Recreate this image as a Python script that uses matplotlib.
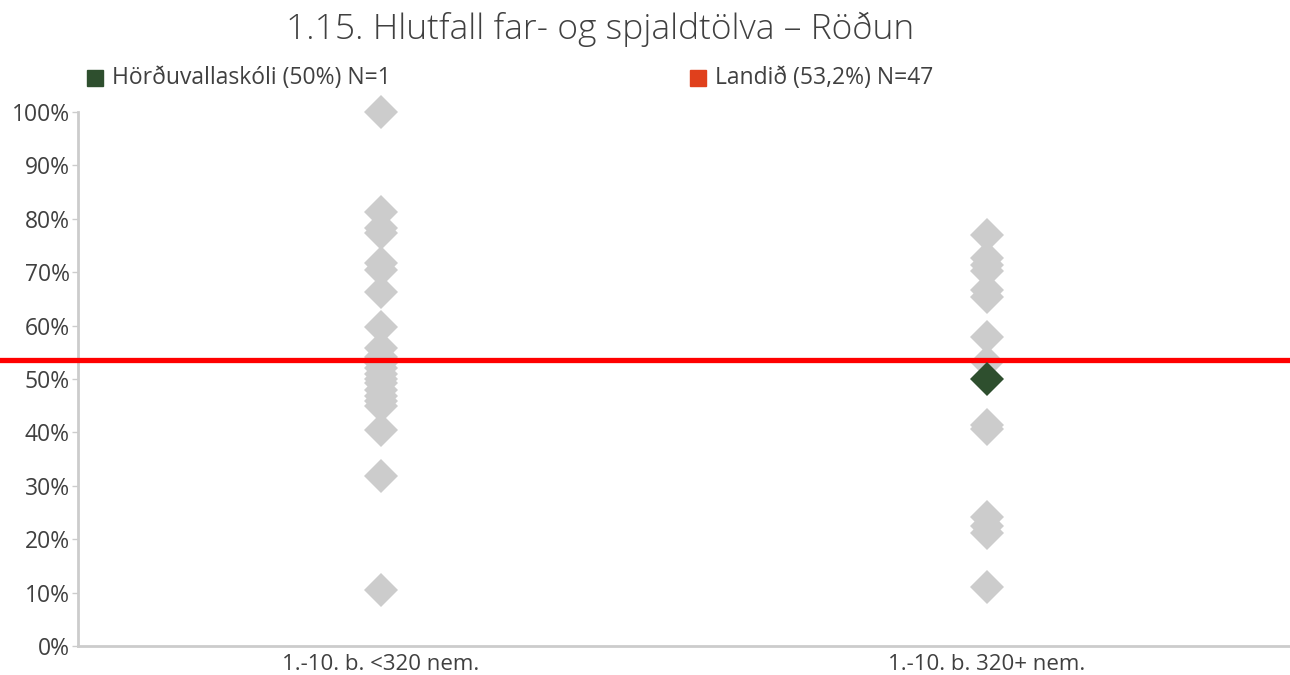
import matplotlib.pyplot as plt
import matplotlib.transforms as mtransforms
from matplotlib.patches import Rectangle

plt.rcParams['font.family'] = ['Open Sans', 'DejaVu Sans']

categories = ['1.-10. b. <320 nem.', '1.-10. b. 320+ nem.']
# other schools, share in %
small_schools = [100, 81.3, 78.2, 77.3, 71.7, 70.4, 66.3, 59.8, 55.8, 54.2, 53.0,
                 52.0, 51.0, 50.0, 49.2, 48.0, 46.8, 45.8, 45.0, 40.4, 31.9, 10.4]
large_schools = [77.0, 72.6, 71.3, 70.2, 66.7, 65.3, 57.9, 53.2, 41.3, 40.6,
                 24.2, 22.5, 21.2, 11.1]
school_name = 'Hörðuvallaskóli'
school_value = 50.0
school_cat = 1
national = 53.6
legend_school = 'Hörðuvallaskóli (50%) N=1'
legend_national = 'Landið (53,2%) N=47'
title = '1.15. Hlutfall far- og spjaldtölva – Röðun'

grey = '#cccccc'
green = '#2e4f2e'
red = '#ff0000'
txt = '#404040'

fig = plt.figure(figsize=(12.9, 6.75), dpi=100)
ax = fig.add_axes([78 / 1290, 1 - 646 / 675, 1212 / 1290, (646 - 112) / 675])

ax.plot([0] * len(small_schools), small_schools, 'D', color=grey, ms=17, mew=0,
        zorder=2, clip_on=False)
ax.plot([1] * len(large_schools), large_schools, 'D', color=grey, ms=17, mew=0,
        zorder=2, clip_on=False)
ax.plot([school_cat], [school_value], 'D', color=green, ms=17, mew=0, zorder=4)

# national line runs across the whole figure width
trans = mtransforms.blended_transform_factory(ax.transAxes, ax.transData)
ax.plot([-78 / 1212, 1], [national, national], color=red, lw=3.8,
        transform=trans, clip_on=False, zorder=3)

ax.set_xlim(-0.5, 1.5)
ax.set_ylim(0, 100)
ax.set_yticks(range(0, 101, 10))
ax.set_yticklabels([f'{v}%' for v in range(0, 101, 10)])
ax.set_xticks([0, 1])
ax.set_xticklabels(categories)
ax.tick_params(axis='y', colors=grey, labelcolor=txt, labelsize=16.5, length=4, width=1, pad=2)
ax.tick_params(axis='x', length=0, labelcolor=txt, labelsize=16, pad=6)
for s in ['top', 'right']:
    ax.spines[s].set_visible(False)
for s in ['left', 'bottom']:
    ax.spines[s].set_color(grey)
    ax.spines[s].set_linewidth(2)

fig.text(600 / 1290, 1 - 29 / 675, title, ha='center', va='center', fontsize=25.5,
         color=txt, fontweight='light')

# legend
fig.add_artist(Rectangle((87 / 1290, 1 - 86 / 675), 16 / 1290, 16 / 675,
                         transform=fig.transFigure, color=green))
fig.text(112 / 1290, 1 - 78 / 675, legend_school, va='center', fontsize=16.5, color=txt)
fig.add_artist(Rectangle((690 / 1290, 1 - 86 / 675), 16 / 1290, 16 / 675,
                         transform=fig.transFigure, color='#e0401c'))
fig.text(715 / 1290, 1 - 78 / 675, legend_national, va='center', fontsize=16.5, color=txt)

fig.savefig('out.png', dpi=100)
